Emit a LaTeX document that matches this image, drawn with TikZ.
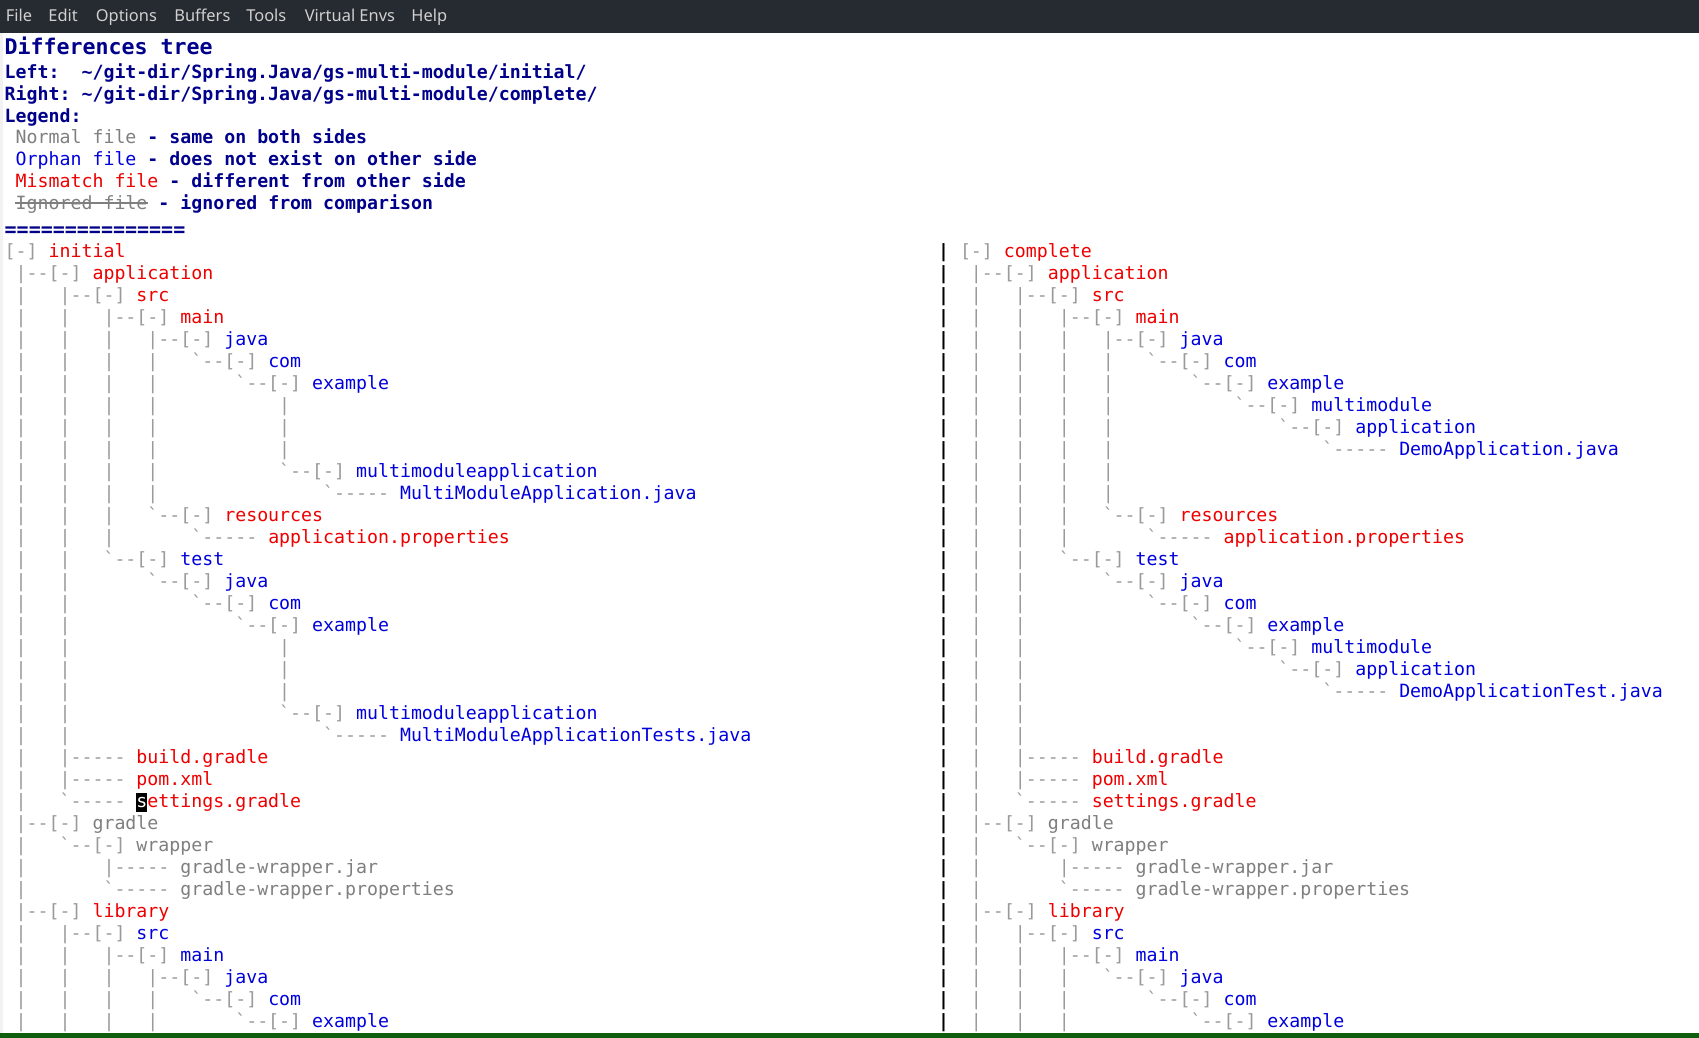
\documentclass[tikz,border=0pt]{standalone}
\usepackage{fontspec}
\setmonofont{DejaVu Sans Mono}
\newfontfamily\menufont{Noto Sans}
\newcommand\codefont{\ttfamily\fontsize{9.12pt}{11pt}\selectfont}
\definecolor{hdr}{HTML}{00008B}
\definecolor{orph}{HTML}{0000DD}
\definecolor{mism}{HTML}{EE0000}
\definecolor{norm}{HTML}{7F7F7F}
\definecolor{sign}{HTML}{9A9A9A}
\definecolor{menubg}{HTML}{262B31}
\definecolor{menufg}{HTML}{D0D0D0}
\definecolor{fringe}{HTML}{F2F2F2}
\definecolor{modeln}{HTML}{0E5E0E}
\begin{document}
\begin{tikzpicture}[x=0.5pt, y=-0.5pt,
	txt/.style={anchor=base west, inner sep=0pt, font=\codefont},
	hdr/.style={txt, text=hdr, font=\codefont\bfseries},
	menu/.style={anchor=base west, inner sep=0pt, text=menufg, font=\menufont\fontsize{8.2pt}{10pt}\selectfont}]
	\useasboundingbox (0,0) rectangle (1699,1038);
	\fill[white] (0,0) rectangle (1699,1038);
	\fill[menubg] (0,0) rectangle (1699,33.5);
	\fill[fringe] (0,33.5) rectangle (3.3,1033);
	\fill[modeln] (0,1033) rectangle (1699,1038);
	\foreach \mx/\mt [count=\i] in {5.5/File, 48/Edit, 95.5/Options, 174/Buffers, 246/Tools, 304.5/Virtual Envs, 411/Help}
		\node[menu] (menu\i) at (\mx,21.5) {\mt};
	\node[hdr, font=\ttfamily\bfseries\fontsize{10.8pt}{13pt}\selectfont] (title) at (4.3,55) {Differences tree};
	\node[hdr] (left) at (4.3,78.3) {Left:~~\textasciitilde/git-dir/Spring.Java/gs-multi-module/initial/};
	\node[hdr] (right) at (4.3,100.2) {Right:~\textasciitilde/git-dir/Spring.Java/gs-multi-module/complete/};
	\node[hdr] (legend) at (4.3,122.1) {Legend:};
	\node[hdr] (lnorm) at (4.3,144) {~\textcolor{norm}{\mdseries Normal~file}~-~same~on~both~sides};
	\node[hdr] (lorph) at (4.3,165.9) {~\textcolor{orph}{\mdseries Orphan~file}~-~does~not~exist~on~other~side};
	\node[hdr] (lmism) at (4.3,187.8) {~\textcolor{mism}{\mdseries Mismatch~file}~-~different~from~other~side};
	\node[txt, text=norm] (lign) at (15.3,209.7) {Ignored~file};
	\node[hdr] (lignr) at (147.1,209.7) {~-~ignored~from~comparison};
	\draw[norm, line width=0.6pt] ([yshift=3.3pt]lign.base west) -- ([yshift=3.3pt]lign.base east);
	\node[hdr, font=\ttfamily\bfseries\fontsize{10pt}{12pt}\selectfont] (rule) at (4.3,236) {===============};
	% cursor
	\fill[black] (136.1,792.5) rectangle (147.1,811.5);
	% left tree
	\foreach \row/\pre/\col/\nm in {0/{[-]~}/mism/initial,
		1/{~|--[-]~}/mism/application,
		2/{~|~~~|--[-]~}/mism/src,
		3/{~|~~~|~~~|--[-]~}/mism/main,
		4/{~|~~~|~~~|~~~|--[-]~}/orph/java,
		5/{~|~~~|~~~|~~~|~~~`--[-]~}/orph/com,
		6/{~|~~~|~~~|~~~|~~~~~~~`--[-]~}/orph/example,
		7/{~|~~~|~~~|~~~|~~~~~~~~~~~|}/sign/{},
		8/{~|~~~|~~~|~~~|~~~~~~~~~~~|}/sign/{},
		9/{~|~~~|~~~|~~~|~~~~~~~~~~~|}/sign/{},
		10/{~|~~~|~~~|~~~|~~~~~~~~~~~`--[-]~}/orph/multimoduleapplication,
		11/{~|~~~|~~~|~~~|~~~~~~~~~~~~~~~`-----~}/orph/MultiModuleApplication.java,
		12/{~|~~~|~~~|~~~`--[-]~}/mism/resources,
		13/{~|~~~|~~~|~~~~~~~`-----~}/mism/application.properties,
		14/{~|~~~|~~~`--[-]~}/orph/test,
		15/{~|~~~|~~~~~~~`--[-]~}/orph/java,
		16/{~|~~~|~~~~~~~~~~~`--[-]~}/orph/com,
		17/{~|~~~|~~~~~~~~~~~~~~~`--[-]~}/orph/example,
		18/{~|~~~|~~~~~~~~~~~~~~~~~~~|}/sign/{},
		19/{~|~~~|~~~~~~~~~~~~~~~~~~~|}/sign/{},
		20/{~|~~~|~~~~~~~~~~~~~~~~~~~|}/sign/{},
		21/{~|~~~|~~~~~~~~~~~~~~~~~~~`--[-]~}/orph/multimoduleapplication,
		22/{~|~~~|~~~~~~~~~~~~~~~~~~~~~~~`-----~}/orph/MultiModuleApplicationTests.java,
		23/{~|~~~|-----~}/mism/build.gradle,
		24/{~|~~~|-----~}/mism/pom.xml,
		25/{~|~~~`-----~}/mism/{\textcolor{white}{s}ettings.gradle},
		26/{~|--[-]~}/norm/gradle,
		27/{~|~~~`--[-]~}/norm/wrapper,
		28/{~|~~~~~~~|-----~}/norm/gradle-wrapper.jar,
		29/{~|~~~~~~~`-----~}/norm/gradle-wrapper.properties,
		30/{~|--[-]~}/mism/library,
		31/{~|~~~|--[-]~}/orph/src,
		32/{~|~~~|~~~|--[-]~}/orph/main,
		33/{~|~~~|~~~|~~~|--[-]~}/orph/java,
		34/{~|~~~|~~~|~~~|~~~`--[-]~}/orph/com,
		35/{~|~~~|~~~|~~~|~~~~~~~`--[-]~}/orph/example}
		\node[txt] (L\row) at (4.3,{257.5+22.01*\row}) {\textcolor{sign}{\pre}\textcolor{\col}{\nm}};
	% separator
	\foreach \row in {0,...,35}
		\node[txt, font=\codefont\bfseries] (S\row) at (937.6,{257.5+22.01*\row}) {|};
	% right tree
	\foreach \row/\pre/\col/\nm in {0/{[-]~}/mism/complete,
		1/{~|--[-]~}/mism/application,
		2/{~|~~~|--[-]~}/mism/src,
		3/{~|~~~|~~~|--[-]~}/mism/main,
		4/{~|~~~|~~~|~~~|--[-]~}/orph/java,
		5/{~|~~~|~~~|~~~|~~~`--[-]~}/orph/com,
		6/{~|~~~|~~~|~~~|~~~~~~~`--[-]~}/orph/example,
		7/{~|~~~|~~~|~~~|~~~~~~~~~~~`--[-]~}/orph/multimodule,
		8/{~|~~~|~~~|~~~|~~~~~~~~~~~~~~~`--[-]~}/orph/application,
		9/{~|~~~|~~~|~~~|~~~~~~~~~~~~~~~~~~~`-----~}/orph/DemoApplication.java,
		10/{~|~~~|~~~|~~~|}/sign/{},
		11/{~|~~~|~~~|~~~|}/sign/{},
		12/{~|~~~|~~~|~~~`--[-]~}/mism/resources,
		13/{~|~~~|~~~|~~~~~~~`-----~}/mism/application.properties,
		14/{~|~~~|~~~`--[-]~}/orph/test,
		15/{~|~~~|~~~~~~~`--[-]~}/orph/java,
		16/{~|~~~|~~~~~~~~~~~`--[-]~}/orph/com,
		17/{~|~~~|~~~~~~~~~~~~~~~`--[-]~}/orph/example,
		18/{~|~~~|~~~~~~~~~~~~~~~~~~~`--[-]~}/orph/multimodule,
		19/{~|~~~|~~~~~~~~~~~~~~~~~~~~~~~`--[-]~}/orph/application,
		20/{~|~~~|~~~~~~~~~~~~~~~~~~~~~~~~~~~`-----~}/orph/DemoApplicationTest.java,
		21/{~|~~~|}/sign/{},
		22/{~|~~~|}/sign/{},
		23/{~|~~~|-----~}/mism/build.gradle,
		24/{~|~~~|-----~}/mism/pom.xml,
		25/{~|~~~`-----~}/mism/settings.gradle,
		26/{~|--[-]~}/norm/gradle,
		27/{~|~~~`--[-]~}/norm/wrapper,
		28/{~|~~~~~~~|-----~}/norm/gradle-wrapper.jar,
		29/{~|~~~~~~~`-----~}/norm/gradle-wrapper.properties,
		30/{~|--[-]~}/mism/library,
		31/{~|~~~|--[-]~}/orph/src,
		32/{~|~~~|~~~|--[-]~}/orph/main,
		33/{~|~~~|~~~|~~~`--[-]~}/orph/java,
		34/{~|~~~|~~~|~~~~~~~`--[-]~}/orph/com,
		35/{~|~~~|~~~|~~~~~~~~~~~`--[-]~}/orph/example}
		\node[txt] (R\row) at (959.6,{257.5+22.01*\row}) {\textcolor{sign}{\pre}\textcolor{\col}{\nm}};
\end{tikzpicture}
\end{document}
